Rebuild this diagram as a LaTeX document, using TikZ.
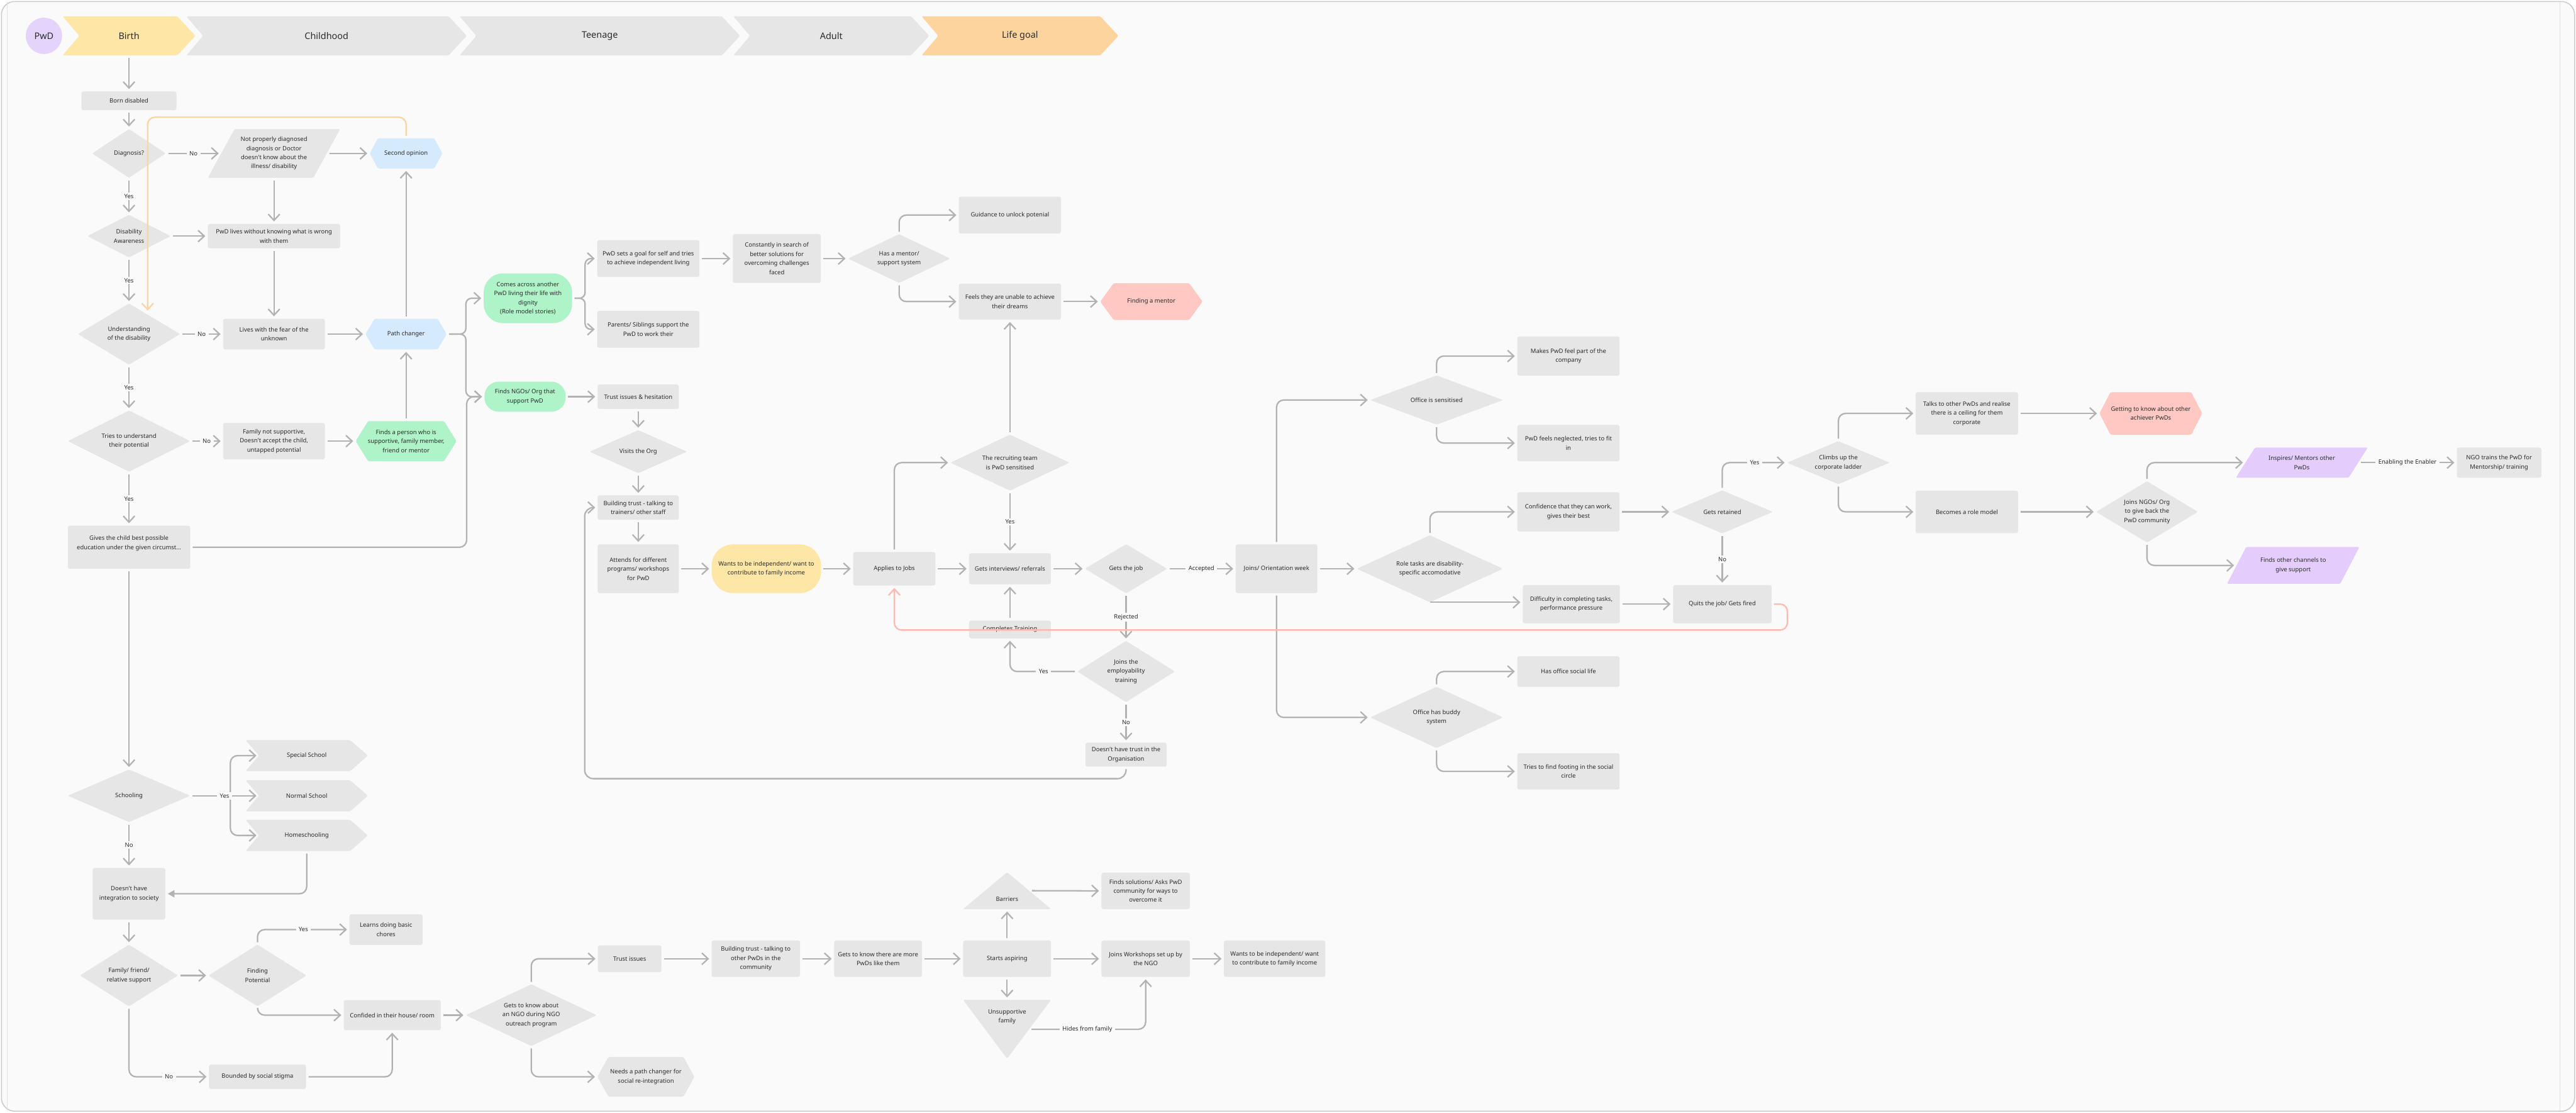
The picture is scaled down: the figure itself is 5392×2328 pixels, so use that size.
\documentclass[tikz,border=0pt]{standalone}
\usepackage{fontspec}
\newfontfamily\nfam{Noto Sans}
\usetikzlibrary{arrows.meta,calc}
\definecolor{pagebg}{HTML}{FAFAFA}
\definecolor{boxg}{HTML}{E6E6E6}
\definecolor{lineg}{HTML}{B2B2B2}
\definecolor{txt}{HTML}{2B2B2B}
\definecolor{blueh}{HTML}{D5EAFC}
\definecolor{greenh}{HTML}{AFF3C8}
\definecolor{yellowh}{HTML}{FEE7A6}
\definecolor{peach}{HTML}{FED49E}
\definecolor{pinkh}{HTML}{FFC8C2}
\definecolor{purpleh}{HTML}{E4CDFC}
\definecolor{lavender}{HTML}{E4D3FB}
\definecolor{orangel}{HTML}{FCD3A2}
\definecolor{pinkl}{HTML}{FFB9AF}
\definecolor{framec}{HTML}{CACACA}
\definecolor{innerc}{HTML}{E2E2E2}
\newcommand\nodefnt{\nfam\fontsize{12.5}{19}\selectfont}
\newcommand\headfnt{\nfam\fontsize{19}{23}\selectfont}
\tikzset{
 base/.style={rectangle, inner sep=0pt, align=center, text=txt, font=\nodefnt},
 sz/.style 2 args={minimum width=#1pt, minimum height=#2pt},
 box/.style={base, fill=boxg, rounded corners=4pt},
 rbox/.style 2 args={base, fill=#1, rounded corners=#2pt},
 dia/.style={base, path picture={\fill[boxg, rounded corners=3pt] (path picture bounding box.north) -- (path picture bounding box.east) -- (path picture bounding box.south) -- (path picture bounding box.west) -- cycle;}},
 hex/.style 2 args={base, path picture={\fill[#1, rounded corners=3pt] ([xshift=#2pt]path picture bounding box.north west) -- ([xshift=-#2pt]path picture bounding box.north east) -- (path picture bounding box.east) -- ([xshift=-#2pt]path picture bounding box.south east) -- ([xshift=#2pt]path picture bounding box.south west) -- (path picture bounding box.west) -- cycle;}},
 para/.style 2 args={base, path picture={\fill[#1, rounded corners=3pt] ([xshift=#2pt]path picture bounding box.north west) -- (path picture bounding box.north east) -- ([xshift=-#2pt]path picture bounding box.south east) -- (path picture bounding box.south west) -- cycle;}},
 chev/.style n args={3}{base, path picture={\fill[#1, rounded corners=3pt] (path picture bounding box.north west) -- ([xshift=-#2pt]path picture bounding box.north east) -- (path picture bounding box.east) -- ([xshift=-#2pt]path picture bounding box.south east) -- (path picture bounding box.south west) -- ([xshift=#3pt]path picture bounding box.west) -- cycle;}},
 triup/.style={base, path picture={\fill[boxg, rounded corners=3pt] (path picture bounding box.north) -- (path picture bounding box.south east) -- (path picture bounding box.south west) -- cycle;}},
 tridown/.style={base, path picture={\fill[boxg, rounded corners=3pt] (path picture bounding box.north west) -- (path picture bounding box.north east) -- (path picture bounding box.south) -- cycle;}},
 arr/.style={draw=lineg, line width=3pt, rounded corners=15pt, shorten <=5pt, shorten >=5pt, -{Straight Barb[length=13pt,width=24pt]}},
 arrfill/.style={arr, -{Triangle[length=14pt,width=15pt]}},
 orarr/.style={arr, draw=orangel},
 pkarr/.style={arr, draw=pinkl},
 lbl/.style={fill=pagebg, inner xsep=6pt, inner ysep=3pt, text=txt, font=\nodefnt, rounded corners=0pt},
}
\begin{document}
\begin{tikzpicture}[x=1pt,y=-1pt]
\useasboundingbox (0,0) rectangle (5392,2328);
\fill[white] (0,0) rectangle (5392,2328);
\draw[framec, line width=2pt, fill=pagebg, rounded corners=28pt] (3,3) rectangle (5389,2325);
\draw[innerc, line width=1.5pt] (15,4) -- (15,2324);
\draw[innerc, line width=1.5pt] (5358,4) -- (5358,2324);

% header
\node[circle, fill=lavender, minimum size=76pt, inner sep=0pt, text=txt, font=\headfnt] (pwd) at (92,75) {PwD};
\node[chev={yellowh}{38}{35}, sz={278}{82}, font=\headfnt] (hbirth) at (270,75) {Birth};
\node[chev={boxg}{38}{35}, sz={587}{82}, font=\headfnt] (hchild) at (683.5,75) {Childhood};
\node[chev={boxg}{38}{35}, sz={587}{82}, font=\headfnt] (hteen) at (1255.5,75) {Teenage};
\node[chev={boxg}{38}{35}, sz={410}{82}, font=\headfnt] (hadult) at (1740,75) {Adult};
\node[chev={peach}{38}{35}, sz={412}{82}, font=\headfnt] (hgoal) at (2135,75) {Life goal};

% column 1
\node[box, sz={199}{39}] (born) at (270,211) {Born disabled};
\node[dia, sz={154}{102}] (diag) at (270,321) {Diagnosis?};
\node[para={boxg}{56}, sz={277}{102}] (notdiag) at (573.5,321) {Not properly diagnosed\\diagnosis or Doctor\\doesn't know about the\\illness/ disability};
\node[hex={blueh}{17}, sz={152}{63}] (second) at (850,321) {Second opinion};
\node[dia, sz={174}{89}] (aware) at (270,494) {Disability\\Awareness};
\node[box, sz={277}{51}] (lives) at (573.5,494) {PwD lives without knowing what is wrong\\with them};
\node[dia, sz={214}{128}] (underst) at (270,699) {Understanding\\of the disability};
\node[box, sz={213}{64}] (fear) at (573.5,699) {Lives with the fear of the\\unknown};
\node[hex={blueh}{19}, sz={170}{64}] (pathch) at (850,699) {Path changer};
\node[dia, sz={256}{128}] (tries) at (270,923) {Tries to understand\\their potential};
\node[box, sz={213}{76}] (famnot) at (573.5,923) {Family not supportive,\\Doesn't accept the child,\\untapped potential};
\node[hex={greenh}{26}, sz={211}{84}] (findsper) at (850,923) {Finds a person who is\\supportive, family member,\\friend or mentor};
\node[box, sz={256}{90}] (gives) at (270,1145) {\raisebox{6pt}[0pt][0pt]{\begin{tabular}{@{}c@{}}Gives the child best possible\\education under the given circumst...\end{tabular}}};
\node[dia, sz={256}{110}] (school) at (270,1665) {Schooling};
\node[chev={boxg}{37}{28}, sz={256}{65}] (special) at (642,1581) {Special School};
\node[chev={boxg}{37}{28}, sz={256}{65}] (normal) at (642,1665) {Normal School};
\node[chev={boxg}{37}{28}, sz={256}{65}] (home) at (642,1748) {Homeschooling};
\node[box, sz={152}{108}] (noint) at (270,1870) {Doesn't have\\integration to society};
\node[dia, sz={205}{129}] (famsup) at (270,2041) {Family/ friend/\\relative support};
\node[dia, sz={205}{129}] (findpot) at (539,2041) {Finding\\Potential};
\node[box, sz={153}{64}] (chores) at (808,1945) {Learns doing basic\\chores};
\node[box, sz={203}{63}] (confided) at (821,2124) {Confided in their house/ room};
\node[box, sz={203}{51}] (stigma) at (539,2253) {Bounded by social stigma};

% teenage / adult
\node[rbox={greenh}{40}, sz={185}{104}] (comes) at (1105,624) {Comes across another\\PwD living their life with\\dignity\\(Role model stories)};
\node[rbox={greenh}{30}, sz={170}{63}] (findsngo) at (1099,830) {Finds NGOs/ Org that\\support PwD};
\node[box, sz={214}{77}] (setsgoal) at (1357,541) {PwD sets a goal for self and tries\\to achieve independent living};
\node[box, sz={214}{77}] (parents) at (1357,689) {Parents/ Siblings support the\\PwD to work their};
\node[box, sz={184}{102}] (constant) at (1626,541) {Constantly in search of\\better solutions for\\overcoming challenges\\faced};
\node[dia, sz={214}{102}] (mentor) at (1882,541) {Has a mentor/\\support system};
\node[box, sz={214}{77}] (guidance) at (2114,450) {Guidance to unlock potenial};
\node[box, sz={214}{75}] (feels) at (2114,631) {Feels they are unable to achieve\\their dreams};
\node[hex={pinkh}{28}, sz={214}{77}] (findmentor) at (2410,631) {Finding a mentor};
\node[box, sz={170}{51}] (trustiss) at (1336,830) {Trust issues \& hesitation};
\node[dia, sz={204}{90}] (visits) at (1336,945) {Visits the Org};
\node[box, sz={170}{51}] (buildtr) at (1336,1062) {Building trust - talking to\\trainers/ other staff};
\node[box, sz={170}{102}] (attends) at (1336,1190) {Attends for different\\programs/ workshops\\for PwD};
\node[rbox={yellowh}{45}, sz={229}{102}] (wantsA) at (1604,1190) {Wants to be independent/ want to\\contribute to family income};
\node[box, sz={172}{70}] (applies) at (1872,1190) {Applies to Jobs};
\node[dia, sz={249}{117}] (recruit) at (2114,968) {The recruiting team\\is PwD sensitised};
\node[box, sz={171}{65}] (interv) at (2114,1190) {Gets interviews/ referrals};
\node[box, sz={171}{37}] (training) at (2114,1317) {Completes Training};
\node[dia, sz={172}{103}] (getsjob) at (2357,1190) {Gets the job};
\node[dia, sz={204}{128}] (employ) at (2357,1405) {Joins the\\employability\\training};
\node[box, sz={170}{50}] (notrust) at (2357,1579) {Doesn't have trust in the\\Organisation};
\node[box, sz={171}{102}] (joins) at (2672,1190) {Joins/ Orientation week};
\node[dia, sz={278}{103}] (officeS) at (3007,837) {Office is sensitised};
\node[box, sz={214}{82}] (makes) at (3283,745) {Makes PwD feel part of the\\company};
\node[box, sz={214}{76}] (neglect) at (3283,927) {PwD feels neglected, tries to fit\\in};
\node[dia, sz={306}{140}] (role) at (2993,1190) {Role tasks are disability-\\specific accomodative};
\node[box, sz={214}{82}] (confid) at (3283,1071) {Confidence that they can work,\\gives their best};
\node[box, sz={203}{80}] (diffic) at (3289,1264) {Difficulty in completing tasks,\\performance pressure};
\node[dia, sz={278}{128}] (buddy) at (3007,1501) {Office has buddy\\system};
\node[box, sz={214}{64}] (social) at (3283,1405) {Has office social life};
\node[box, sz={214}{76}] (footing) at (3283,1614) {Tries to find footing in the social\\circle};
\node[dia, sz={212}{90}] (retained) at (3605,1071) {Gets retained};
\node[box, sz={206}{80}] (quits) at (3605,1264) {Quits the job/ Gets fired};
\node[dia, sz={215}{90}] (climbs) at (3848,968) {Climbs up the\\corporate ladder};
\node[box, sz={214}{89}] (talks) at (4117,865) {Talks to other PwDs and realise\\there is a ceiling for them\\corporate};
\node[hex={pinkh}{23}, sz={215}{89}] (achiever) at (4502,865) {Getting to know about other\\achiever PwDs};
\node[box, sz={214}{89}] (rolemodel) at (4117,1071) {Becomes a role model};
\node[dia, sz={213}{128}] (givesback) at (4494,1071) {Joins NGOs/ Org\\to give back the\\PwD community};
\node[para={purpleh}{40}, sz={276}{63}] (inspires) at (4818,968) {Inspires/ Mentors other\\PwDs};
\node[box, sz={177}{63}] (ngotrain) at (5231,968) {NGO trains the PwD for\\Mentorship/ training};
\node[para={purpleh}{40}, sz={277}{77}] (channels) at (4800,1183) {Finds other channels to\\give support};

% bottom row
\node[dia, sz={274}{129}] (ngoout) at (1112,2124) {Gets to know about\\an NGO during NGO\\outreach program};
\node[box, sz={133}{56}] (trust2) at (1318,2006) {Trust issues};
\node[box, sz={185}{76}] (build2) at (1582,2006) {Building trust - talking to\\other PwDs in the\\community};
\node[box, sz={184}{76}] (more) at (1838,2006) {Gets to know there are more\\PwDs like them};
\node[box, sz={184}{76}] (aspire) at (2108,2006) {Starts aspiring};
\node[triup, sz={184}{77}] (barriers) at (2108,1863.5) {\raisebox{-22pt}[0pt][0pt]{Barriers}};
\node[tridown, sz={184}{123}] (unsupp) at (2108,2153.5) {\raisebox{24pt}[0pt][0pt]{\begin{tabular}{@{}c@{}}Unsupportive\\family\end{tabular}}};
\node[box, sz={185}{76}] (solutions) at (2398,1864) {Finds solutions/ Asks PwD\\community for ways to\\overcome it};
\node[box, sz={185}{76}] (workshops) at (2398,2006) {Joins Workshops set up by\\the NGO};
\node[box, sz={212}{76}] (wantsB) at (2668,2006) {Wants to be independent/ want\\to contribute to family income};
\node[hex={boxg}{23}, sz={203}{83}] (needs) at (1352,2253) {Needs a path changer for\\social re-integration};

\coordinate (sfork) at ($(school.east)+(84,0)$);

% connectors column 1
\draw[arr] (hbirth) -- (born);
\draw[arr] (born) -- (diag);
\draw[arr] (diag) -- node[lbl]{No} ([xshift=28pt]notdiag.west);
\draw[arr] ([xshift=-28pt]notdiag.east) -- (second);
\draw[arr] (notdiag) -- (lives);
\draw[arr] (diag) -- node[lbl]{Yes} (aware);
\draw[arr] (aware) -- (lives);
\draw[arr] (lives) -- (fear);
\draw[arr] (aware) -- node[lbl]{Yes} (underst);
\draw[arr] (underst) -- node[lbl]{No} (fear);
\draw[arr] (fear) -- (pathch);
\draw[arr] (pathch) -- (second);
\draw[arr] (findsper) -- (pathch);
\draw[orarr] (second.north) -- ++(0,-44) -| ($(underst.north)+(39,20)$);
\draw[arr, rounded corners=12pt] (pathch.east) -- ++(40,0) |- (comes.west);
\draw[arr, rounded corners=12pt] (pathch.east) -- ++(40,0) |- (findsngo.west);
\draw[arr] (gives.east) -| ($(findsngo.west)+(-37,0)$) -- (findsngo.west);
\draw[arr] (underst) -- node[lbl]{Yes} (tries);
\draw[arr] (tries) -- node[lbl]{No} (famnot);
\draw[arr] (famnot) -- (findsper);
\draw[arr] (tries) -- node[lbl]{Yes} (gives);
\draw[arr] (gives) -- (school);
\draw[arr, shorten <=0pt] (sfork) |- ($(special.west)+(28,0)$);
\draw[arr, shorten <=0pt] (sfork) |- ($(home.west)+(28,0)$);
\draw[arr] (school.east) -- node[lbl]{Yes} ($(normal.west)+(28,0)$);
\draw[arr] (school) -- node[lbl]{No} (noint);
\draw[arrfill] (home.south) |- (noint.east);
\draw[arr] (noint) -- (famsup);
\draw[arr] (famsup) -- (findpot);
\draw[arr] (findpot.north) |- node[lbl,pos=0.75]{Yes} (chores.west);
\draw[arr] (findpot.south) |- (confided.west);
\draw[arr] (famsup.south) |- node[lbl,pos=0.75]{No} (stigma.west);
\draw[arr] (stigma.east) -| (confided.south);
\draw[arr] (confided) -- (ngoout);
\draw[arr] (ngoout.north) |- (trust2.west);
\draw[arr] (ngoout.south) |- (needs.west);
\draw[arr] (trust2) -- (build2);
\draw[arr] (build2) -- (more);
\draw[arr] (more) -- (aspire);
\draw[arr] (aspire) -- (barriers);
\draw[arr] ($(barriers.center)+(47,0)$) -- (solutions.west);
\draw[arr] (aspire) -- (workshops);
\draw[arr] (aspire) -- (unsupp);
\draw[arr] ($(unsupp.center)+(46,0)$) -| node[lbl,pos=0.25]{Hides from family} (workshops.south);
\draw[arr] (workshops) -- (wantsB);

% teenage
\draw[arr, rounded corners=12pt] (comes.east) -- ++(27,0) |- (setsgoal.west);
\draw[arr, rounded corners=12pt] (comes.east) -- ++(27,0) |- (parents.west);
\draw[arr] (setsgoal) -- (constant);
\draw[arr] (constant) -- (mentor);
\draw[arr] (mentor.north) |- (guidance.west);
\draw[arr] (mentor.south) |- (feels.west);
\draw[arr] (feels) -- (findmentor);
\draw[arr] (recruit) -- (feels);
\draw[arr] (findsngo) -- (trustiss);
\draw[arr] (trustiss) -- (visits);
\draw[arr] (visits) -- (buildtr);
\draw[arr] (buildtr) -- (attends);
\draw[arr] (attends) -- (wantsA);
\draw[arr] (wantsA) -- (applies);
\draw[arr] (applies) -- (interv);
\draw[arr] (interv) -- (getsjob);
\draw[arr] (applies.north) |- (recruit.west);
\draw[arr] (recruit) -- node[lbl]{Yes} (interv);
\draw[arr] (training) -- (interv);
\draw[arr] (employ.west) -| node[lbl,pos=0.25]{Yes} (training.south);
\draw[arr] (getsjob) -- node[lbl]{Rejected} (employ);
\draw[arr] (employ) -- node[lbl]{No} (notrust);
\draw[arr, rounded corners=18pt] (notrust.south) -- ++(0,25) -| ($(buildtr.west)+(-27,0)$) -- (buildtr.west);
\draw[arr] (getsjob) -- node[lbl]{Accepted} (joins);
\draw[arr] (joins) -- (role);
\draw[arr] (joins.north) |- (officeS.west);
\draw[arr] (joins.south) |- (buddy.west);
\draw[arr] (officeS.north) |- (makes.west);
\draw[arr] (officeS.south) |- (neglect.west);
\draw[arr] (role.north) |- (confid.west);
\draw[arr, shorten <=0pt] (role.south) -- (role.south -| diffic.west);
\draw[arr] (confid) -- (retained);
\draw[arr] (diffic) -- (quits);
\draw[arr] (buddy.north) |- (social.west);
\draw[arr] (buddy.south) |- (footing.west);
\draw[arr] (retained.north) |- node[lbl,pos=0.75]{Yes} (climbs.west);
\draw[arr] (retained) -- node[lbl]{No} (quits);
\draw[pkarr] (quits.east) -- ++(33,0) |- ($(applies.south)+(0,93)$) -- (applies.south);
\draw[arr] (climbs.north) |- (talks.west);
\draw[arr] (climbs.south) |- (rolemodel.west);
\draw[arr] (talks) -- (achiever);
\draw[arr] (rolemodel) -- (givesback);
\draw[arr] (givesback.north) |- ($(inspires.west)+(20,0)$);
\draw[arr] (givesback.south) |- ($(channels.west)+(20,0)$);
\draw[arr] ($(inspires.east)+(-20,0)$) -- node[lbl]{Enabling the Enabler} (ngotrain);
\end{tikzpicture}
\end{document}
